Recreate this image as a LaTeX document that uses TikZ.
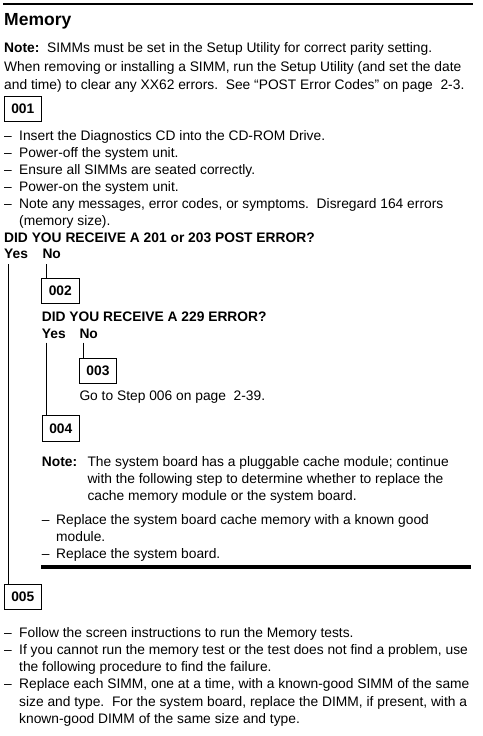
\documentclass[tikz,border=0pt]{standalone}
\usepackage{fontspec}
\setmainfont{Liberation Sans}
\usetikzlibrary{positioning}

\newcommand{\bodyfont}{\fontsize{13.8}{17}\selectfont}

\begin{document}
\begin{tikzpicture}[x=1pt,y=-1pt,
	txt/.style={anchor=base west,inner sep=0pt,font=\bodyfont},
	boldtxt/.style={txt,font=\bodyfont\bfseries},
	stepbox/.style={draw,line width=0.9pt,inner sep=0pt,minimum width=37.5pt,minimum height=25.5pt,font=\bodyfont\bfseries},
	link/.style={line width=0.9pt}
]
	\useasboundingbox (0,0) rectangle (482,736);

	% heading
	\draw[line width=1.3pt] (3,4) -- (473,4);
	\node[txt,font=\fontsize{17.5}{20}\selectfont\bfseries] at (4,25) (title) {Memory};
	\node[txt,font=\fontsize{13.8}{18.3}\selectfont] at (4,52.7) (note1) {\begin{tabular}[t]{@{}l@{}}
		\textbf{Note:}\ \ SIMMs must be set in the Setup Utility for correct parity setting.\\
		When removing or installing a SIMM, run the Setup Utility (and set the date\\
		and time) to clear any XX62 errors.\ \ See “POST Error Codes” on page\ \ 2-3.
	\end{tabular}};

	% step 001
	\node[stepbox] at (22.8,109) (box001) {001};
	\node[txt] at (4,140) (list1) {\begin{tabular}[t]{@{}p{15pt}@{}l@{}}
		– & Insert the Diagnostics CD into the CD-ROM Drive.\\
		– & Power-off the system unit.\\
		– & Ensure all SIMMs are seated correctly.\\
		– & Power-on the system unit.\\
		– & Note any messages, error codes, or symptoms.\ \ Disregard 164 errors\\
		  & (memory size).
	\end{tabular}};
	\node[boldtxt] at (4,242) (q1) {DID YOU RECEIVE A 201 or 203 POST ERROR?};
	\node[boldtxt] at (4,258.5) (yes1) {Yes};
	\node[boldtxt] at (42.3,258.5) (no1) {No};

	% step 002
	\node[stepbox] at (60.3,290.8) (box002) {002};
	\node[boldtxt] at (41.7,321) (q2) {DID YOU RECEIVE A 229 ERROR?};
	\node[boldtxt] at (41.7,338) (yes2) {Yes};
	\node[boldtxt] at (79.3,338) (no2) {No};

	% step 003
	\node[stepbox] at (98,370.8) (box003) {003};
	\node[txt] at (79.3,400.5) (goto) {Go to Step 006 on page\ \ 2-39.};

	% step 004
	\node[stepbox] at (60.8,428.5) (box004) {004};
	\node[txt] at (41.7,466) (note2) {\begin{tabular}[t]{@{}p{45.6pt}@{}l@{}}
		\textbf{Note:} & The system board has a pluggable cache module; continue\\
		               & with the following step to determine whether to replace the\\
		               & cache memory module or the system board.
	\end{tabular}};
	\node[txt] at (41.7,524) (list2) {\begin{tabular}[t]{@{}p{14.3pt}@{}l@{}}
		– & Replace the system board cache memory with a known good\\
		  & module.\\
		– & Replace the system board.
	\end{tabular}};
	\draw[line width=3.3pt] (41,567) -- (471,567);

	% step 005
	\node[stepbox] at (22.8,597) (box005) {005};
	\node[txt,font=\fontsize{13.8}{17.3}\selectfont] at (4,637) (list3) {\begin{tabular}[t]{@{}p{15pt}@{}l@{}}
		– & Follow the screen instructions to run the Memory tests.\\
		– & If you cannot run the memory test or the test does not find a problem, use\\
		  & the following procedure to find the failure.\\
		– & Replace each SIMM, one at a time, with a known-good SIMM of the same\\
		  & size and type.\ \ For the system board, replace the DIMM, if present, with a\\
		  & known-good DIMM of the same size and type.
	\end{tabular}};

	% yes / no branches
	\coordinate (yes1foot) at ([xshift=4.3pt,yshift=-5.5pt]yes1.base west);
	\coordinate (no1foot) at ([xshift=4.4pt,yshift=-5.5pt]no1.base west);
	\coordinate (yes2foot) at ([xshift=4.3pt,yshift=-4.7pt]yes2.base west);
	\coordinate (no2foot) at ([xshift=4pt,yshift=-4.7pt]no2.base west);
	\draw[link] (yes1foot) -- (yes1foot |- box005.north);
	\draw[link] (no1foot) -- (no1foot |- box002.north);
	\draw[link] (yes2foot) -- (yes2foot |- box004.north);
	\draw[link] (no2foot) -- (no2foot |- box003.north);

\end{tikzpicture}
\end{document}
